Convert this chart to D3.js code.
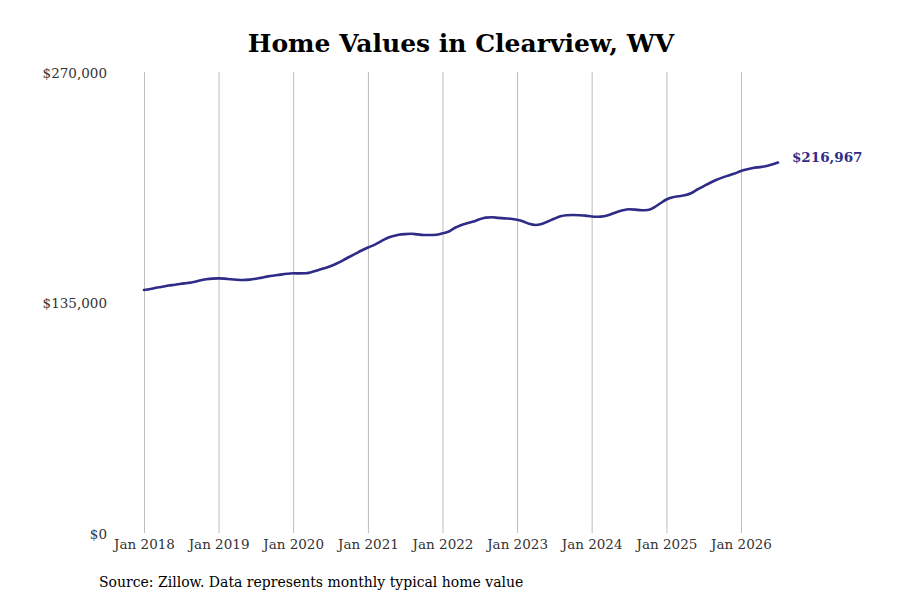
<!DOCTYPE html>
<html>
<head>
<meta charset="utf-8">
<script src="https://cdn.jsdelivr.net/npm/d3@7"></script>
<style>
  body { margin: 0; background: #fff; }
  svg { font-family: "DejaVu Serif", serif; }
</style>
</head>
<body>
<svg id="chart"></svg>
<script>
const width = 900;
const height = 600;

// DATA: monthly typical home value, Jan 2018 - Jul 2026
const startMonth = "2018-01";
const homeValues = [
  142320, 142906, 143609, 144194, 144956, 145366, 145951, 146420, 147006, 147884, 148587, 148997,
  149114, 148997, 148587, 148294, 148177, 148411, 148880, 149583, 150285, 150813, 151340, 151808,
  152101, 152043, 152101, 152862, 153858, 155030, 156259, 157841, 159715, 161648, 163580, 165455,
  167212, 168793, 170550, 172483, 173771, 174650, 175060, 175235, 174884, 174533, 174533, 174708,
  175528, 176583, 178632, 180272, 181385, 182439, 183728, 184723, 184899, 184548, 184255, 184021,
  183435, 182439, 181092, 180389, 180975, 182439, 184021, 185485, 186127, 186246, 186127, 185895,
  185367, 185192, 185485, 186539, 187886, 188999, 189585, 189409, 189057, 189175, 190639, 192982,
  195324, 196613, 197198, 197784, 199014, 201181, 203055, 204988, 206745, 208151, 209381, 210552,
  212016, 213012, 213773, 214300, 214827, 215765, 216967
];
const yTicks = [0, 135000, 270000];
const xTickYears = [2018, 2019, 2020, 2021, 2022, 2023, 2024, 2025, 2026];

const parseMonth = d3.timeParse("%Y-%m");
const start = parseMonth(startMonth);
const data = homeValues.map((v, i) => ({ date: d3.timeMonth.offset(start, i), value: v }));

const lineColor = "#2f2c88";

// SCALES
const xScale = d3.scaleTime()
  .domain([new Date(2018, 0, 1), new Date(2026, 0, 1)])
  .range([144, 741]);

const yScale = d3.scaleLinear()
  .domain([0, 270000])
  .range([533, 72]);

const svg = d3.select("#chart")
  .attr("width", width)
  .attr("height", height);

// VERTICAL GRID + X AXIS
const xAxis = d3.axisBottom(xScale)
  .tickValues(xTickYears.map(y => new Date(y, 0, 1)))
  .tickFormat(d3.timeFormat("Jan %Y"))
  .tickSize(-(533 - 72))
  .tickSizeOuter(0)
  .tickPadding(6);

const gx = svg.append("g")
  .attr("transform", "translate(0, 533)")
  .call(xAxis);
gx.select(".domain").remove();
gx.selectAll(".tick line").attr("stroke", "#bdbdbd").attr("stroke-width", 1);
gx.selectAll(".tick text")
  .attr("fill", "#333")
  .style("font-size", "13.5px")
  .style("font-family", "DejaVu Serif");

// Y AXIS (labels only)
const yAxis = d3.axisLeft(yScale)
  .tickValues(yTicks)
  .tickFormat(d => "$" + d3.format(",")(d))
  .tickSize(0)
  .tickPadding(0);

const gy = svg.append("g")
  .attr("transform", "translate(107, 1)")
  .call(yAxis);
gy.select(".domain").remove();
gy.selectAll(".tick text")
  .attr("fill", "#333")
  .style("font-size", "13.5px")
  .style("font-family", "DejaVu Serif");

// LINE
const line = d3.line()
  .x(d => xScale(d.date))
  .y(d => yScale(d.value))
  .curve(d3.curveMonotoneX);

svg.append("path")
  .datum(data)
  .attr("fill", "none")
  .attr("stroke", lineColor)
  .attr("stroke-width", 2.6)
  .attr("stroke-linejoin", "round")
  .attr("stroke-linecap", "round")
  .attr("d", line);

// END LABEL
const last = data[data.length - 1];
svg.append("text")
  .attr("x", xScale(last.date) + 14)
  .attr("y", yScale(last.value) - 5)
  .attr("dy", "0.35em")
  .attr("fill", lineColor)
  .style("font-size", "13.5px")
  .style("font-weight", "bold")
  .text("$" + d3.format(",")(last.value));

// TITLE
svg.append("text")
  .attr("x", 461)
  .attr("y", 52)
  .style("text-anchor", "middle")
  .style("font-size", "25px")
  .style("font-weight", "bold")
  .attr("fill", "#000")
  .text("Home Values in Clearview, WV");

// SOURCE
svg.append("text")
  .attr("x", 99)
  .attr("y", 587)
  .style("font-size", "14px")
  .attr("fill", "#000")
  .text("Source: Zillow. Data represents monthly typical home value");
</script>
</body>
</html>
